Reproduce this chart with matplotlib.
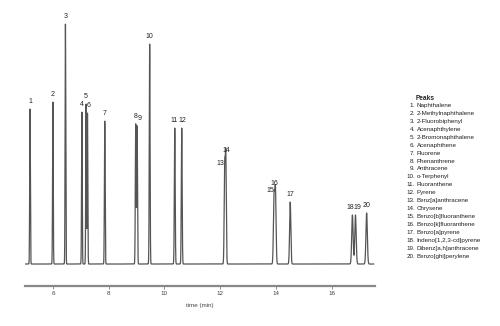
import numpy as np
import matplotlib.pyplot as plt

# Peak data
peak_ids = list(range(1, 21))
retention = [5.18, 6.00, 6.45, 7.04, 7.19, 7.24, 7.86, 8.97, 9.02, 9.47,
             10.37, 10.62, 12.16, 12.20, 13.93, 13.98, 14.51, 16.74, 16.85, 17.25]
height = [155, 162, 240, 152, 160, 151, 143, 140, 138, 220,
          136, 136, 94, 106, 67, 73, 62, 49, 49, 51]
width = [0.012, 0.012, 0.012, 0.012, 0.012, 0.012, 0.013, 0.014, 0.014, 0.014,
         0.015, 0.015, 0.018, 0.018, 0.022, 0.022, 0.022, 0.025, 0.025, 0.025]
names = ["Naphthalene", "2-Methylnaphthalene", "2-Fluorobiphenyl", "Acenaphthylene",
         "2-Bromonaphthalene", "Acenaphthene", "Fluorene", "Phenanthrene", "Anthracene",
         "o-Terphenyl", "Fluoranthene", "Pyrene", "Benz[a]anthracene", "Chrysene",
         "Benzo[b]fluoranthene", "Benzo[k]fluoranthene", "Benzo[a]pyrene",
         "Indeno[1,2,3-cd]pyrene", "Dibenz[a,h]anthracene", "Benzo[ghi]perylene"]
xticks = [6, 8, 10, 12, 14, 16]

# label nudges in pixels (dx, dy) relative to each peak apex
nudge = {6: (0.7, 4.5), 9: (2.4, 4), 11: (-0.5, 4), 12: (0.8, 4), 13: (-4, 3),
         14: (0.5, 4), 15: (-3.6, 3), 16: (-0.7, 4), 18: (-2.4, 4), 19: (2.2, 4)}

fig = plt.figure(figsize=(5.0, 3.26), dpi=100)
ax = fig.add_axes([0.05, 0.1236, 0.70, 0.83])

t = np.linspace(5.0, 17.5, 12000)
signal = np.zeros_like(t)
for rt, h, w in zip(retention, height, width):
    signal += h * np.exp(-0.5 * ((t - rt) / w) ** 2)

ax.plot(t, signal, color='#555555', linewidth=0.9)

px = 0.72  # points per pixel at dpi 100
for pid, rt, h in zip(peak_ids, retention, height):
    dx, dy = nudge.get(pid, (0, 4))
    ax.annotate(str(pid), (rt, h), xytext=(dx * px, dy * px), textcoords='offset points',
                ha='center', va='bottom', fontsize=5, color='#222222',
                family='Liberation Sans')

ax.set_xlim(5.0, 17.55)
ax.set_ylim(-21.7, 249)
ax.set_xticks(xticks)
ax.set_xticklabels([str(v) for v in xticks], fontsize=4.5, color='#444444',
                   family='Liberation Sans')
ax.tick_params(axis='x', length=2, width=0.6, color='#777777', pad=2)
ax.set_yticks([])
for side in ['top', 'right', 'left']:
    ax.spines[side].set_visible(False)
ax.spines['bottom'].set_color('#888888')
ax.spines['bottom'].set_linewidth(1.6)
ax.set_xlabel('time (min)', fontsize=4.5, color='#444444', family='Liberation Sans',
              labelpad=5)

# peak legend on the right
fig.text(415.5 / 500, 1 - 99 / 326, 'Peaks', fontsize=4.7, fontweight='bold',
         ha='left', va='center', family='Liberation Sans', color='#222222')
for i, (pid, nm) in enumerate(zip(peak_ids, names)):
    y = 1 - (105.5 + i * 7.93) / 326
    fig.text(415 / 500, y, f'{pid}.', fontsize=4.5, ha='right', va='center',
             family='Liberation Sans', color='#222222')
    fig.text(416.5 / 500, y, nm, fontsize=4.5, ha='left', va='center',
             family='Liberation Sans', color='#222222')

fig.savefig('out.png', dpi=100)
